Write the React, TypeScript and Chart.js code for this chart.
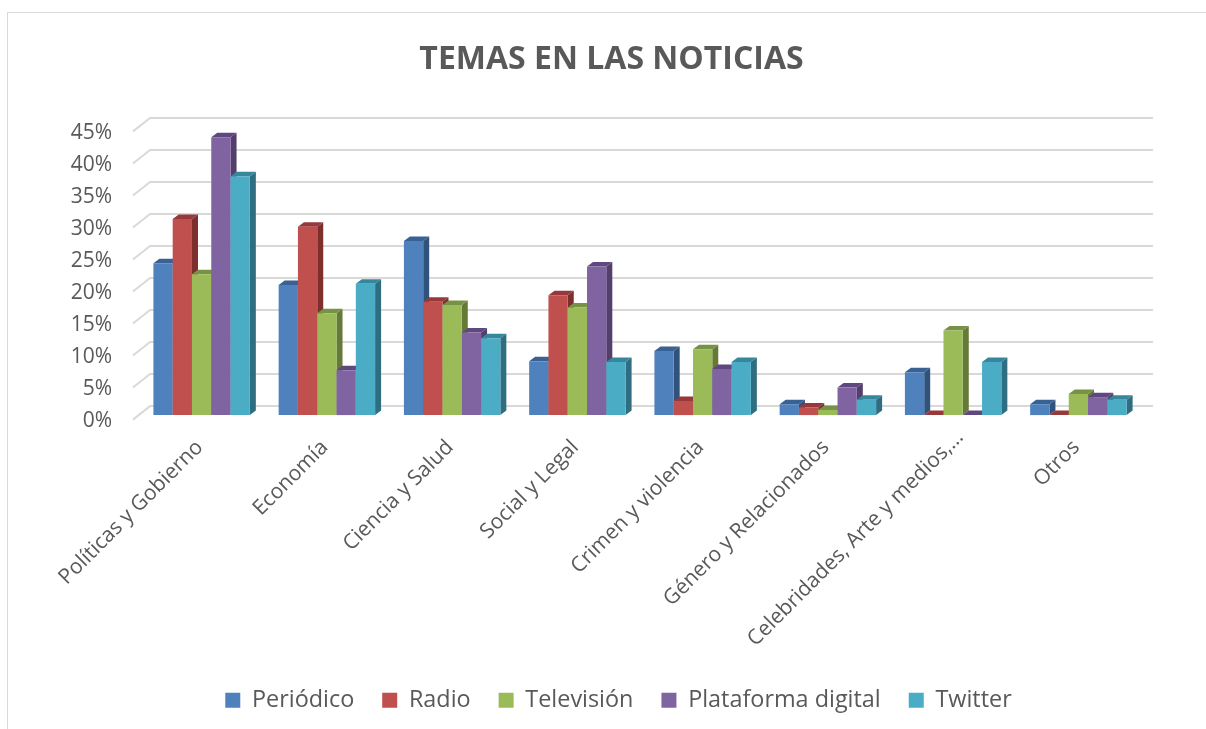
import React, { useEffect, useRef } from "react";
import { Chart, registerables } from "chart.js";

Chart.register(...registerables);

const categories = [
  "Políticas y Gobierno",
  "Economía",
  "Ciencia y Salud",
  "Social y Legal",
  "Crimen y violencia",
  "Género y Relacionados",
  "Celebridades, Arte y medios,…",
  "Otros",
];
const periodico = [23.7, 20.3, 27.2, 8.4, 10, 1.7, 6.7, 1.7];
const radio = [30.6, 29.4, 17.7, 18.7, 2.2, 1.2, 0, 0];
const television = [22, 15.9, 17.2, 16.8, 10.3, 0.8, 13.2, 3.3];
const plataforma = [43.4, 7, 12.9, 23.2, 7.2, 4.3, 0, 2.8];
const twitter = [37.3, 20.5, 12, 8.3, 8.3, 2.4, 8.3, 2.4];

const seriesNames = ["Periódico", "Radio", "Televisión", "Plataforma digital", "Twitter"];
const seriesValues = [periodico, radio, television, plataforma, twitter];
const fronts = ["#4f81bd", "#c0504d", "#9bbb59", "#8064a2", "#4bacc6"];
const sides = ["#31527a", "#7d2f2d", "#657a37", "#533e6c", "#2e6e80"];
const tops = ["#3a6194", "#97393a", "#789245", "#5f4880", "#36869c"];

const FONT = "'Open Sans', sans-serif";
const DX = 6;
const DY = 4.5;

const wall3d = {
  id: "wall3d",
  afterLayout(chart: any) {
    const lg = chart.legend;
    if (lg) {
      lg.left += 39;
      lg.right += 39;
    }
    const tt = chart.titleBlock;
    if (tt) {
      tt.left += 32;
      tt.right += 32;
    }
  },
  beforeDraw(chart: any) {
    const item = chart.scales.x.getLabelItems()[6];
    if (item && !item.moved) {
      item.moved = true;
      item.options.translation[0] += 9;
      item.options.translation[1] -= 10;
    }
  },
  beforeDatasetsDraw(chart: any) {
    const { ctx, scales } = chart;
    const y = scales.y;
    const x0 = chart.chartArea.left;
    const x1 = chart.chartArea.right;
    ctx.save();
    ctx.strokeStyle = "#d9d9d9";
    ctx.lineWidth = 2;
    for (const t of y.ticks) {
      const py = y.getPixelForValue(t.value);
      ctx.beginPath();
      ctx.moveTo(x0 - 6, py + 4.5);
      ctx.lineTo(x0 + 11, py - 9);
      ctx.lineTo(x1 + 12, py - 9);
      ctx.stroke();
    }
    ctx.restore();

    chart.data.datasets.forEach((_d: any, i: number) => {
      const meta = chart.getDatasetMeta(i);
      meta.data.forEach((bar: any) => {
        const half = bar.width / 2;
        const l = bar.x - half;
        const r = bar.x + half;
        const t = bar.y;
        const b = bar.base;
        ctx.fillStyle = sides[i];
        ctx.beginPath();
        ctx.moveTo(r, t);
        ctx.lineTo(r + DX, t - DY);
        ctx.lineTo(r + DX, b - DY);
        ctx.lineTo(r, b);
        ctx.closePath();
        ctx.fill();
        ctx.fillStyle = tops[i];
        ctx.beginPath();
        ctx.moveTo(l, t);
        ctx.lineTo(l + DX, t - DY);
        ctx.lineTo(r + DX, t - DY);
        ctx.lineTo(r, t);
        ctx.closePath();
        ctx.fill();
      });
      meta.controller.draw();
    });
    return false;
  },
};

export default function App() {
  const ref = useRef<HTMLCanvasElement>(null);
  useEffect(() => {
    const chart = new Chart(ref.current as HTMLCanvasElement, {
      type: "bar",
      data: {
        labels: categories,
        datasets: seriesNames.map((name, i) => ({
          label: name,
          data: seriesValues[i],
          backgroundColor: fronts[i],
          borderWidth: 0,
          barPercentage: 1,
          categoryPercentage: 0.77,
        })),
      },
      options: {
        responsive: false,
        animation: false,
        layout: { padding: { left: 18, right: 65, top: 41, bottom: 7 } },
        plugins: {
          title: {
            display: true,
            text: "TEMAS EN LAS NOTICIAS",
            color: "#595959",
            font: { family: FONT, size: 32, weight: "bold" },
            padding: { top: 0, bottom: 47.5 },
          },
          legend: {
            position: "bottom",
            labels: {
              color: "#595959",
              font: { family: FONT, size: 23.4 },
              boxWidth: 15,
              boxHeight: 15,
              padding: 28,
            },
          },
          tooltip: { enabled: false },
        },
        scales: {
          x: {
            grid: { display: false },
            border: { display: false },
            afterFit(scale: any) {
              scale.height = 245.5;
            },
            ticks: {
              autoSkip: false,
              minRotation: 45,
              maxRotation: 45,
              color: "#595959",
              font: { family: FONT, size: 21 },
              padding: 12,
              labelOffset: -2,
            },
          },
          y: {
            min: 0,
            max: 45,
            grid: { display: false },
            border: { display: false },
            afterFit(scale: any) {
              scale.width = 121;
            },
            ticks: {
              stepSize: 5,
              color: "#595959",
              font: { family: FONT, size: 21 },
              padding: 19,
              labelOffset: 6,
              callback: (v: any) => `${v}%`,
            },
          },
        },
      },
      plugins: [wall3d],
    } as any);
    return () => chart.destroy();
  }, []);
  return (
    <div style={{ position: "fixed", left: 0, top: 0, width: 1206, height: 729, background: "#fff", overflow: "hidden" }}>
      <div
        style={{
          position: "absolute",
          left: 7,
          top: 12,
          width: 1300,
          height: 800,
          border: "1.5px solid #d9d9d9",
          boxSizing: "border-box",
        }}
      />
      <canvas ref={ref} width={1206} height={729} style={{ position: "absolute", left: 0, top: 0, display: "block" }} />
    </div>
  );
}
